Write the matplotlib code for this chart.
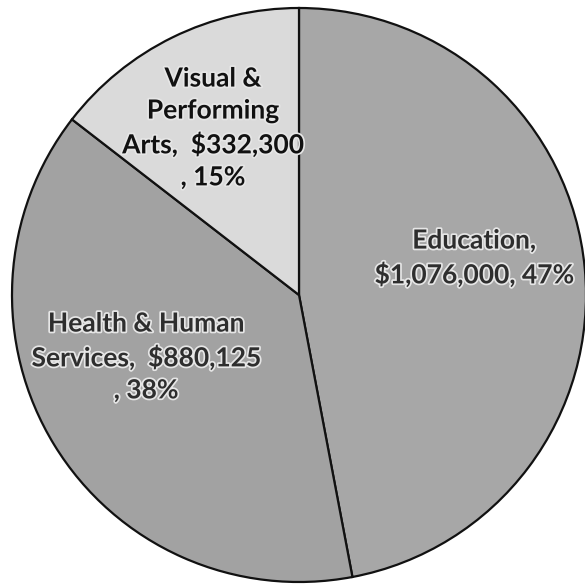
import matplotlib
matplotlib.use("Agg")
import matplotlib.pyplot as plt
import matplotlib.patheffects as pe

categories = ["Education", "Health & Human\nServices", "Visual &\nPerforming\nArts"]
values = [1076000, 880125, 332300]
value_labels = ["$1,076,000", "$880,125", "$332,300"]
percent_labels = ["47%", "38%", "15%"]
label_texts = ["Education,\n$1,076,000, 47%",
               "Health & Human\nServices,  $880,125\n, 38%",
               "Visual &\nPerforming\nArts,  $332,300\n, 15%"]

colors = ["#a7a7a7", "#a2a2a2", "#dadada"]
label_pos = [(0.610, 0.129), (-0.533, -0.216), (-0.300, 0.582)]
text_colors = ["#2e2e2e", "#2e2e2e", "#111111"]

W = 585
R_PX = 287.0
CX, CY = 299.0, 295.0

fig = plt.figure(figsize=(5.85, 5.85), dpi=100)
ax = fig.add_axes([0, 0, 1, 1])
wedges, _ = ax.pie(values, colors=colors, startangle=90, counterclock=False,
                   radius=1.0, center=(0, 0),
                   wedgeprops=dict(edgecolor="#111111", linewidth=1.6))
ax.set_xlim(-CX / R_PX, (W - CX) / R_PX)
ax.set_ylim(-(W - CY) / R_PX, CY / R_PX)
ax.set_aspect("equal")
ax.axis("off")

for txt, pos, tc in zip(label_texts, label_pos, text_colors):
    ax.text(pos[0], pos[1], txt, ha="center", va="center", fontsize=19,
            fontweight="bold", family=["Lato", "DejaVu Sans"], color=tc,
            linespacing=1.4,
            path_effects=[pe.withStroke(linewidth=2.5, foreground="#e6e6e6")])

fig.savefig("out.png", dpi=100, facecolor="white")
